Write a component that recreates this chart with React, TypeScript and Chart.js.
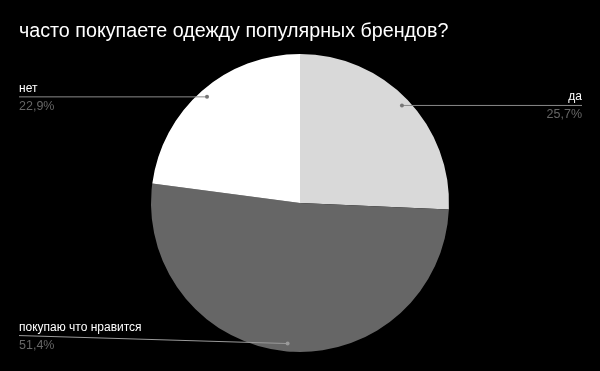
import React, { useEffect, useRef } from "react";
import { Chart, registerables } from "chart.js";

Chart.register(...registerables);

const titleText = "часто покупаете одежду популярных брендов?";
const categories = ["да", "покупаю что нравится", "нет"];
const values = [25.7, 51.4, 22.9];
const percentLabels = ["25,7%", "51,4%", "22,9%"];
const sliceColors = ["#d9d9d9", "#666666", "#ffffff"];

const FONT = "Arial, 'Liberation Sans', sans-serif";

const labelPlugin = {
  id: "leaderLabels",
  afterDraw(chart: any) {
    const ctx = chart.ctx;
    const meta = chart.getDatasetMeta(0);
    ctx.save();
    // title
    ctx.fillStyle = "#ffffff";
    ctx.font = `19.7px ${FONT}`;
    ctx.textAlign = "left";
    ctx.textBaseline = "alphabetic";
    ctx.fillText(titleText, 19, 37);

    meta.data.forEach((arc: any, i: number) => {
      const { x, y, startAngle, endAngle, outerRadius } = arc.getProps(
        ["x", "y", "startAngle", "endAngle", "outerRadius"],
        true
      );
      const mid = (startAngle + endAngle) / 2;
      const r = outerRadius * 0.947;
      const px = x + Math.cos(mid) * r;
      const py = y + Math.sin(mid) * r;
      const rightSide = Math.cos(mid) > 0;
      const lineY = i === 1 ? py - 8 : py;
      const endX = rightSide ? 582 : 19;
      // leader line
      ctx.strokeStyle = i === 1 ? "#9a9a9a" : "#8a8a8a";
      ctx.lineWidth = 1;
      ctx.beginPath();
      ctx.moveTo(px, py);
      ctx.lineTo(endX, lineY);
      ctx.stroke();
      // dot
      ctx.fillStyle = i === 1 ? "#9a9a9a" : "#777777";
      ctx.beginPath();
      ctx.arc(px, py, 2, 0, Math.PI * 2);
      ctx.fill();
      // labels
      ctx.textAlign = rightSide ? "right" : "left";
      ctx.font = `12px ${FONT}`;
      ctx.fillStyle = "#ffffff";
      ctx.fillText(categories[i], endX, lineY - 5);
      ctx.fillStyle = "#666666";
      ctx.font = `12.5px ${FONT}`;
      ctx.fillText(percentLabels[i], endX, lineY + 13);
    });
    ctx.restore();
  },
};

const bgPlugin = {
  id: "bg",
  beforeDraw(chart: any) {
    const ctx = chart.ctx;
    ctx.save();
    ctx.fillStyle = "#000000";
    ctx.fillRect(0, 0, chart.width, chart.height);
    ctx.restore();
  },
};

export default function App() {
  const ref = useRef<HTMLCanvasElement | null>(null);
  useEffect(() => {
    document.body.style.margin = "0";
    document.body.style.background = "#000";
    if (!ref.current) return;
    const chart = new Chart(ref.current, {
      type: "pie",
      data: {
        labels: categories,
        datasets: [
          {
            data: values,
            backgroundColor: sliceColors,
            borderWidth: 0,
          },
        ],
      },
      options: {
        animation: false,
        responsive: false,
        events: [],
        layout: { padding: { top: 54, bottom: 19, left: 151, right: 151 } },
        plugins: {
          legend: { display: false },
          title: { display: false },
          tooltip: { enabled: false },
        },
      },
      plugins: [bgPlugin, labelPlugin],
    });
    return () => chart.destroy();
  }, []);
  return (
    <div style={{ width: 600, height: 371, background: "#000" }}>
      <canvas ref={ref} width={600} height={371} style={{ display: "block" }} />
    </div>
  );
}
